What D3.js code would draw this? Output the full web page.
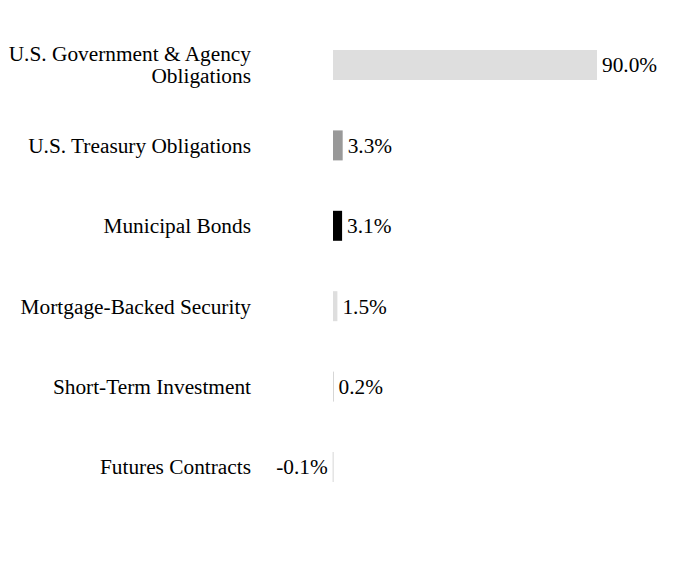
<!DOCTYPE html>
<html>
<head>
<meta charset="utf-8">
<script src="https://cdn.jsdelivr.net/npm/d3@7"></script>
<style>
  body { margin: 0; background: #fff; }
</style>
</head>
<body>
<div id="chart"></div>
<script>
// holdings by type, percent of net assets
const categories = [
    ["U.S. Government & Agency", "Obligations"],
    ["U.S. Treasury Obligations"],
    ["Municipal Bonds"],
    ["Mortgage-Backed Security"],
    ["Short-Term Investment"],
    ["Futures Contracts"]
];
const values = [90.0, 3.3, 3.1, 1.5, 0.2, -0.1];
const barColors = ["#dedede", "#999999", "#000000", "#dedede", "#cccccc", "#cccccc"];

let width = 696, height = 576;
let fontSize = 21.33, lineGap = 22;

let svg = d3.select("#chart").append("svg")
    .attr("width", width)
    .attr("height", height)
    .style("font-family", "'Times New Roman', Times, 'Liberation Serif', serif")
    .style("font-size", fontSize + "px");

// zero sits at x=333, 90% reaches about x=597
let x = d3.scaleLinear()
    .domain([0, 90])
    .range([333, 597]);

let y = d3.scaleBand()
    .domain(d3.range(values.length))
    .range([24.8, 507.2])
    .paddingInner(0.627)
    .paddingOuter(0.3135);

let rows = svg.selectAll(".row")
    .data(values)
    .enter().append("g")
    .attr("class", "row");

rows.append("rect")
    .attr("x", d => Math.min(x(0), x(d)))
    .attr("y", (d, i) => y(i))
    .attr("width", d => Math.max(Math.abs(x(d) - x(0)), 0.8))
    .attr("height", y.bandwidth())
    .style("fill", (d, i) => barColors[i]);

// category labels, right aligned
rows.append("text")
    .attr("text-anchor", "end")
    .attr("x", 251)
    .attr("y", (d, i) => y(i) + y.bandwidth() / 2 + fontSize * 0.35)
    .each(function(d, i) {
        let lines = categories[i];
        let t = d3.select(this);
        lines.forEach((line, k) => {
            t.append("tspan")
                .attr("x", 251)
                .attr("dy", k == 0 ? -(lines.length - 1) * lineGap / 2 : lineGap)
                .text(line);
        });
    });

// value labels
rows.append("text")
    .attr("dy", "0.35em")
    .attr("y", (d, i) => y(i) + y.bandwidth() / 2)
    .attr("x", d => d < 0 ? x(d) - 5 : x(d) + 5)
    .attr("text-anchor", d => d < 0 ? "end" : "start")
    .text(d => d.toFixed(1) + "%");
</script>
</body>
</html>
